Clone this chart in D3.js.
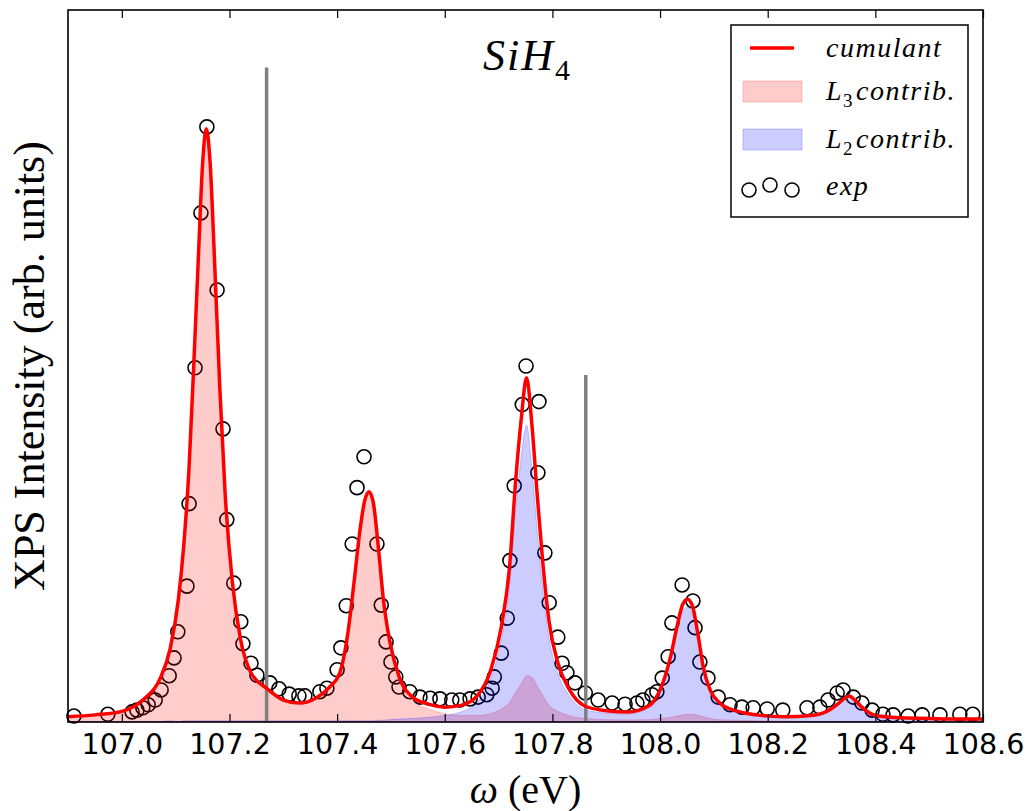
<!DOCTYPE html>
<html>
<head>
<meta charset="utf-8">
<script src="https://cdn.jsdelivr.net/npm/d3@7"></script>
<style>
body { margin: 0; background: #fff; }
</style>
</head>
<body>
<script>
// values (energy in eV, intensity normalised to main peak)
const gridEv = [106.90, 106.95, 107.00, 107.04, 107.07, 107.09, 107.105, 107.115, 107.125, 107.135,
    107.143, 107.150, 107.157, 107.164, 107.172, 107.182, 107.192, 107.205, 107.22, 107.24,
    107.27, 107.30, 107.33, 107.36, 107.385, 107.405, 107.42, 107.432, 107.442, 107.451,
    107.459, 107.467, 107.476, 107.486, 107.498, 107.515, 107.54, 107.57, 107.60, 107.63,
    107.66, 107.685, 107.705, 107.72, 107.732, 107.742, 107.752, 107.762, 107.772, 107.782,
    107.794, 107.81, 107.83, 107.86, 107.90, 107.94, 107.98, 108.00, 108.02, 108.032,
    108.042, 108.051, 108.06, 108.07, 108.08, 108.093, 108.11, 108.14, 108.18, 108.23,
    108.28, 108.31, 108.33, 108.34, 108.351, 108.362, 108.375, 108.40, 108.45, 108.50,
    108.55, 108.60]

const cumulant = [0.009, 0.012, 0.018, 0.038, 0.071, 0.124, 0.206, 0.297, 0.43, 0.63,
    0.80, 0.94, 1.0, 0.943, 0.784, 0.564, 0.384, 0.239, 0.142, 0.083,
    0.056, 0.037, 0.032, 0.040, 0.058, 0.083, 0.150, 0.24, 0.32, 0.372,
    0.388, 0.371, 0.30, 0.206, 0.135, 0.077, 0.042, 0.030, 0.025, 0.028,
    0.044, 0.086, 0.16, 0.258, 0.41, 0.51, 0.58, 0.50, 0.38, 0.27,
    0.168, 0.10, 0.057, 0.027, 0.019, 0.017, 0.028, 0.054, 0.112, 0.163,
    0.198, 0.207, 0.196, 0.150, 0.094, 0.054, 0.033, 0.019, 0.012, 0.009,
    0.011, 0.018, 0.030, 0.038, 0.044, 0.037, 0.025, 0.011, 0.007, 0.006,
    0.005, 0.005]

const l3Contrib = [0.008, 0.011, 0.017, 0.037, 0.070, 0.122, 0.205, 0.295, 0.428, 0.628,
    0.798, 0.938, 0.998, 0.941, 0.782, 0.562, 0.382, 0.237, 0.140, 0.081,
    0.054, 0.035, 0.030, 0.038, 0.056, 0.081, 0.148, 0.238, 0.318, 0.370,
    0.386, 0.369, 0.297, 0.203, 0.131, 0.072, 0.036, 0.022, 0.014, 0.011,
    0.011, 0.014, 0.022, 0.032, 0.05, 0.064, 0.078, 0.075, 0.06, 0.045,
    0.028, 0.018, 0.011, 0.006, 0.004, 0.0035, 0.004, 0.006, 0.008, 0.010,
    0.012, 0.013, 0.013, 0.011, 0.009, 0.006, 0.004, 0.003, 0.002, 0.0015,
    0.001, 0.001, 0.001, 0.001, 0.001, 0.001, 0.001, 0.001, 0.001, 0.001,
    0.001, 0.001]

const l2Contrib = [0.001, 0.001, 0.001, 0.001, 0.001, 0.002, 0.001, 0.002, 0.002, 0.002,
    0.002, 0.002, 0.002, 0.002, 0.002, 0.002, 0.002, 0.002, 0.002, 0.002,
    0.002, 0.002, 0.002, 0.002, 0.002, 0.002, 0.002, 0.002, 0.002, 0.002,
    0.002, 0.002, 0.003, 0.003, 0.004, 0.005, 0.006, 0.008, 0.011, 0.017,
    0.033, 0.072, 0.138, 0.226, 0.36, 0.446, 0.50, 0.425, 0.32, 0.225,
    0.14, 0.082, 0.046, 0.021, 0.015, 0.0135, 0.024, 0.048, 0.104, 0.153,
    0.186, 0.194, 0.183, 0.139, 0.085, 0.048, 0.029, 0.016, 0.010, 0.0075,
    0.010, 0.017, 0.029, 0.037, 0.043, 0.036, 0.024, 0.010, 0.006, 0.005,
    0.004, 0.004]

const expEv = [106.911, 106.974, 107.019, 107.028, 107.039, 107.049, 107.062, 107.073, 107.088, 107.097,
    107.104, 107.121, 107.125, 107.136, 107.147, 107.158, 107.177, 107.188, 107.195, 107.208,
    107.221, 107.225, 107.240, 107.251, 107.275, 107.292, 107.311, 107.329, 107.340, 107.368,
    107.381, 107.400, 107.407, 107.417, 107.428, 107.437, 107.450, 107.474, 107.482, 107.491,
    107.500, 107.509, 107.515, 107.535, 107.554, 107.573, 107.591, 107.613, 107.628, 107.647,
    107.662, 107.678, 107.688, 107.692, 107.705, 107.716, 107.721, 107.729, 107.744, 107.751,
    107.773, 107.775, 107.786, 107.794, 107.810, 107.818, 107.827, 107.842, 107.861, 107.885,
    107.911, 107.935, 107.957, 107.968, 107.985, 107.994, 108.004, 108.015, 108.022, 108.041,
    108.061, 108.065, 108.074, 108.089, 108.108, 108.130, 108.152, 108.173, 108.199, 108.228,
    108.273, 108.297, 108.312, 108.329, 108.340, 108.359, 108.375, 108.394, 108.414, 108.433,
    108.461, 108.487, 108.520, 108.557, 108.581]

const expInt = [0.010, 0.013, 0.017, 0.020, 0.024, 0.029, 0.037, 0.054, 0.078, 0.108,
    0.152, 0.229, 0.368, 0.597, 0.858, 1.003, 0.728, 0.494, 0.341, 0.234,
    0.169, 0.132, 0.099, 0.079, 0.066, 0.056, 0.047, 0.044, 0.044, 0.051,
    0.057, 0.088, 0.125, 0.196, 0.300, 0.395, 0.447, 0.300, 0.197, 0.135,
    0.101, 0.076, 0.059, 0.051, 0.042, 0.040, 0.039, 0.037, 0.037, 0.039,
    0.042, 0.046, 0.057, 0.076, 0.116, 0.175, 0.272, 0.398, 0.535, 0.600,
    0.420, 0.540, 0.285, 0.201, 0.143, 0.099, 0.083, 0.066, 0.049, 0.037,
    0.032, 0.030, 0.032, 0.037, 0.046, 0.051, 0.074, 0.110, 0.167, 0.231,
    0.204, 0.159, 0.101, 0.074, 0.042, 0.029, 0.025, 0.024, 0.022, 0.020,
    0.024, 0.025, 0.037, 0.049, 0.054, 0.042, 0.032, 0.020, 0.013, 0.012,
    0.010, 0.012, 0.012, 0.013, 0.013]

const stickEv = [107.269, 107.862]
const stickInt = [1.103, 0.585]

const xTicks = [107.0, 107.2, 107.4, 107.6, 107.8, 108.0, 108.2, 108.4, 108.6]

const svgWidth = 1028
const svgHeight = 811
const margin = {top: 10, right: 45, bottom: 89, left: 68}
const chartWidth = svgWidth - margin.left - margin.right
const chartHeight = svgHeight - margin.top - margin.bottom

const serif = "'Liberation Serif', 'DejaVu Serif', serif"

const svg = d3.select("body").append("svg")
    .attr("width", svgWidth)
    .attr("height", svgHeight)

const chartG = svg.append("g")
    .attr("transform", `translate(${margin.left}, ${margin.top})`)

const x = d3.scaleLinear().domain([106.9, 108.6]).range([0, chartWidth])
const y = d3.scaleLinear().domain([0, 1.2]).range([chartHeight, 0])

// experimental points (drawn first, fills lie over them)
chartG.append("g").selectAll("circle")
    .data(expEv)
    .join("circle")
    .attr("cx", d => x(d))
    .attr("cy", (d, i) => y(expInt[i]))
    .attr("r", 7)
    .attr("fill", "none")
    .attr("stroke", "#000")
    .attr("stroke-width", 1.6)

const area = d3.area()
    .x(d => x(d[0]))
    .y0(y(0))
    .y1(d => y(d[1]))
    .curve(d3.curveMonotoneX)

chartG.append("path")
    .attr("d", area(gridEv.map((e, i) => [e, l3Contrib[i]])))
    .attr("fill", "red").attr("fill-opacity", 0.2)
    .attr("stroke", "red").attr("stroke-opacity", 0.2)

chartG.append("path")
    .attr("d", area(gridEv.map((e, i) => [e, l2Contrib[i]])))
    .attr("fill", "blue").attr("fill-opacity", 0.2)
    .attr("stroke", "blue").attr("stroke-opacity", 0.2)

// sticks
chartG.append("g").selectAll("line")
    .data(stickEv)
    .join("line")
    .attr("x1", d => x(d)).attr("x2", d => x(d))
    .attr("y1", y(0))
    .attr("y2", (d, i) => y(stickInt[i]))
    .attr("stroke", "#808080")
    .attr("stroke-width", 3.5)

const line = d3.line()
    .x(d => x(d[0]))
    .y(d => y(d[1]))
    .curve(d3.curveMonotoneX)

chartG.append("path")
    .attr("d", line(gridEv.map((e, i) => [e, cumulant[i]])))
    .attr("fill", "none")
    .attr("stroke", "red")
    .attr("stroke-width", 3.5)

// axes
const xAxis = chartG.append("g")
    .attr("transform", `translate(0, ${chartHeight})`)
    .call(d3.axisBottom(x).tickValues(xTicks).tickSize(-8).tickPadding(12).tickFormat(d3.format(".1f")))
xAxis.select(".domain").remove()
xAxis.selectAll("text")
    .attr("font-family", "'DejaVu Sans', sans-serif")
    .attr("font-size", 28.5)
    .attr("fill", "#000")

const topAxis = chartG.append("g")
    .call(d3.axisTop(x).tickValues(xTicks).tickSize(-8).tickFormat(""))
topAxis.select(".domain").remove()

chartG.selectAll(".tick line").attr("stroke", "#000").attr("stroke-width", 1.2)

chartG.append("rect")
    .attr("width", chartWidth)
    .attr("height", chartHeight)
    .attr("fill", "none")
    .attr("stroke", "#000")
    .attr("stroke-width", 1.6)

// title
const title = chartG.append("text")
    .attr("x", 415)
    .attr("y", 60)
    .attr("font-family", serif)
    .attr("font-style", "italic")
    .attr("font-size", 44)
    .attr("letter-spacing", 2)
title.append("tspan").text("SiH")
title.append("tspan").attr("dy", 10).attr("font-size", 30).attr("font-style", "normal").text("4")

// axis labels
const xLabel = svg.append("text")
    .attr("x", margin.left + chartWidth / 2)
    .attr("y", 803)
    .attr("text-anchor", "middle")
    .attr("font-family", serif)
    .attr("font-size", 40)
xLabel.append("tspan").attr("font-style", "italic").text("ω")
xLabel.append("tspan").text(" (eV)")

svg.append("text")
    .attr("transform", `translate(44, ${margin.top + chartHeight / 2}) rotate(-90)`)
    .attr("text-anchor", "middle")
    .attr("font-family", serif)
    .attr("font-size", 44)
    .text("XPS Intensity (arb. units)")

// legend
const legend = svg.append("g")
legend.append("rect")
    .attr("x", 731).attr("y", 25)
    .attr("width", 237).attr("height", 192)
    .attr("fill", "#fff")
    .attr("stroke", "#111")
    .attr("stroke-width", 1.6)

legend.append("line")
    .attr("x1", 750).attr("x2", 794)
    .attr("y1", 48).attr("y2", 48)
    .attr("stroke", "red").attr("stroke-width", 3.5)

legend.append("rect")
    .attr("x", 743).attr("y", 81).attr("width", 59).attr("height", 21)
    .attr("fill", "red").attr("fill-opacity", 0.2)
    .attr("stroke", "red").attr("stroke-opacity", 0.2)

legend.append("rect")
    .attr("x", 743).attr("y", 129).attr("width", 59).attr("height", 21)
    .attr("fill", "blue").attr("fill-opacity", 0.2)
    .attr("stroke", "blue").attr("stroke-opacity", 0.2)

legend.selectAll(".mark")
    .data([[749, 190], [770, 185], [792, 190]])
    .join("circle")
    .attr("cx", d => d[0]).attr("cy", d => d[1])
    .attr("r", 7)
    .attr("fill", "none").attr("stroke", "#000").attr("stroke-width", 1.6)

const legendText = (yPos) => legend.append("text")
    .attr("x", 826).attr("y", yPos)
    .attr("font-family", serif)
    .attr("font-style", "italic")
    .attr("font-size", 28)
    .attr("letter-spacing", 1.5)

legendText(57).text("cumulant")

const l3 = legendText(100)
l3.append("tspan").text("L")
l3.append("tspan").attr("dy", 7).attr("font-size", 19).attr("font-style", "normal").text("3")
l3.append("tspan").attr("dy", -7).attr("dx", 2).text("contrib.")

const l2 = legendText(148)
l2.append("tspan").text("L")
l2.append("tspan").attr("dy", 7).attr("font-size", 19).attr("font-style", "normal").text("2")
l2.append("tspan").attr("dy", -7).attr("dx", 2).text("contrib.")

legendText(195).text("exp")
</script>
</body>
</html>
